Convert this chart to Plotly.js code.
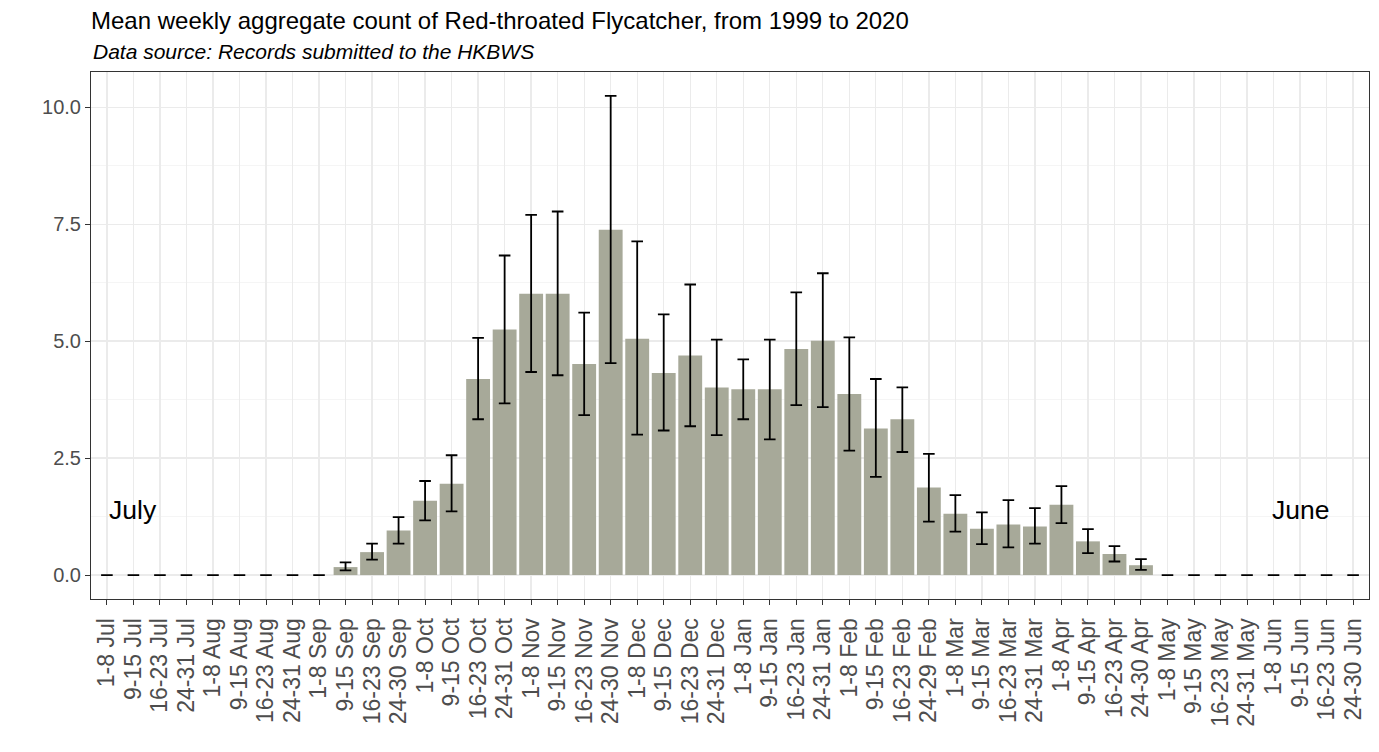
<!DOCTYPE html>
<html>
<head>
<meta charset="utf-8">
<script src="https://cdn.plot.ly/plotly-3.0.1.min.js"></script>
<style>html,body{margin:0;padding:0;background:#fff;}#chart{width:1379px;height:752px;}</style>
</head>
<body>
<div id="chart"></div>
<script>
var weeks = ["1-8 Jul","9-15 Jul","16-23 Jul","24-31 Jul","1-8 Aug","9-15 Aug","16-23 Aug","24-31 Aug",
  "1-8 Sep","9-15 Sep","16-23 Sep","24-30 Sep","1-8 Oct","9-15 Oct","16-23 Oct","24-31 Oct",
  "1-8 Nov","9-15 Nov","16-23 Nov","24-30 Nov","1-8 Dec","9-15 Dec","16-23 Dec","24-31 Dec",
  "1-8 Jan","9-15 Jan","16-23 Jan","24-31 Jan","1-8 Feb","9-15 Feb","16-23 Feb","24-29 Feb",
  "1-8 Mar","9-15 Mar","16-23 Mar","24-31 Mar","1-8 Apr","9-15 Apr","16-23 Apr","24-30 Apr",
  "1-8 May","9-15 May","16-23 May","24-31 May","1-8 Jun","9-15 Jun","16-23 Jun","24-30 Jun"];

var meanCount = [0,0,0,0,0,0,0,0,
  0,0.17,0.49,0.95,1.59,1.95,4.19,5.25,
  6.01,6.01,4.51,7.38,5.05,4.32,4.69,4.01,
  3.97,3.97,4.83,5.01,3.87,3.13,3.33,1.87,
  1.31,0.99,1.08,1.04,1.50,0.72,0.45,0.21,
  0,0,0,0,0,0,0,0];

var upperCount = [0,0,0,0,0,0,0,0,
  0,0.27,0.67,1.24,2.01,2.56,5.07,6.83,
  7.70,7.77,5.61,10.24,7.13,5.57,6.21,5.03,
  4.61,5.03,6.04,6.45,5.08,4.19,4.01,2.59,
  1.71,1.34,1.60,1.43,1.90,0.98,0.62,0.34,
  0,0,0,0,0,0,0,0];

var lowerCount = [0,0,0,0,0,0,0,0,
  0,0.10,0.33,0.67,1.17,1.36,3.33,3.67,
  4.34,4.27,3.42,4.53,3.00,3.09,3.18,2.99,
  3.33,2.90,3.63,3.59,2.66,2.10,2.63,1.14,
  0.93,0.66,0.59,0.67,1.11,0.47,0.29,0.11,
  0,0,0,0,0,0,0,0];

var yTicks = [0, 2.5, 5, 7.5, 10];
var yTickText = ["0.0", "2.5", "5.0", "7.5", "10.0"];

var errPlus = meanCount.map(function(v, i){ return upperCount[i] - v; });
var errMinus = meanCount.map(function(v, i){ return v - lowerCount[i]; });

var FONT = "Liberation Sans, Arial, Helvetica, sans-serif";

var trace = {
  type: "bar",
  x: weeks,
  y: meanCount,
  width: 0.9,
  marker: {color: "#a7a999", line: {width: 0}},
  error_y: {
    type: "data",
    symmetric: false,
    array: errPlus,
    arrayminus: errMinus,
    color: "#000000",
    thickness: 1.8,
    width: 5.8
  },
  hoverinfo: "x+y"
};

var layout = {
  width: 1379,
  height: 752,
  margin: {l: 91, r: 10, t: 72, b: 153},
  paper_bgcolor: "#ffffff",
  plot_bgcolor: "#ffffff",
  showlegend: false,
  bargap: 0.1,
  font: {family: FONT, color: "#000"},
  title: {
    text: "Mean weekly aggregate count of Red-throated Flycatcher, from 1999 to 2020",
    font: {family: FONT, size: 24, color: "#000"},
    xref: "paper", x: 0, xanchor: "left",
    yref: "container", y: 0.973, yanchor: "middle"
  },
  xaxis: {
    type: "category",
    range: [-0.6, 47.6],
    tickmode: "linear", tick0: 0, dtick: 1,
    tickangle: -90,
    tickfont: {family: FONT, size: 23, color: "#4d4d4d"},
    ticks: "outside", ticklen: 5, tickwidth: 1, tickcolor: "#333333",
    ticklabelstandoff: 4,
    showgrid: true, gridcolor: "#ebebeb", gridwidth: 1.3,
    showline: true, linecolor: "#333333", linewidth: 1, mirror: true,
    zeroline: false,
    fixedrange: true
  },
  yaxis: {
    range: [-0.512, 10.752],
    tickmode: "array", tickvals: yTicks, ticktext: yTickText,
    tickfont: {family: FONT, size: 20, color: "#4d4d4d"},
    ticks: "outside", ticklen: 5, tickwidth: 1, tickcolor: "#333333",
    showgrid: true, gridcolor: "#ebebeb", gridwidth: 1.3,
    minor: {tickmode: "linear", tick0: 1.25, dtick: 2.5, showgrid: true, gridcolor: "#f2f2f2", gridwidth: 0.8, ticks: ""},
    showline: true, linecolor: "#333333", linewidth: 1, mirror: true,
    zeroline: false,
    fixedrange: true
  },
  annotations: [
    {
      text: "<i>Data source: Records submitted to the HKBWS</i>",
      xref: "paper", x: 0, xanchor: "left",
      yref: "paper", y: 1, yanchor: "bottom", yshift: 7,
      showarrow: false,
      font: {family: FONT, size: 21, color: "#000"}
    },
    {
      text: "July", x: "9-15 Jul", y: 1.4, xref: "x", yref: "y",
      showarrow: false, font: {family: FONT, size: 26.5, color: "#000"}
    },
    {
      text: "June", x: "9-15 Jun", y: 1.4, xref: "x", yref: "y",
      showarrow: false, font: {family: FONT, size: 26.5, color: "#000"}
    }
  ]
};

Plotly.newPlot("chart", [trace], layout, {displayModeBar: false, staticPlot: true});
</script>
</body>
</html>
